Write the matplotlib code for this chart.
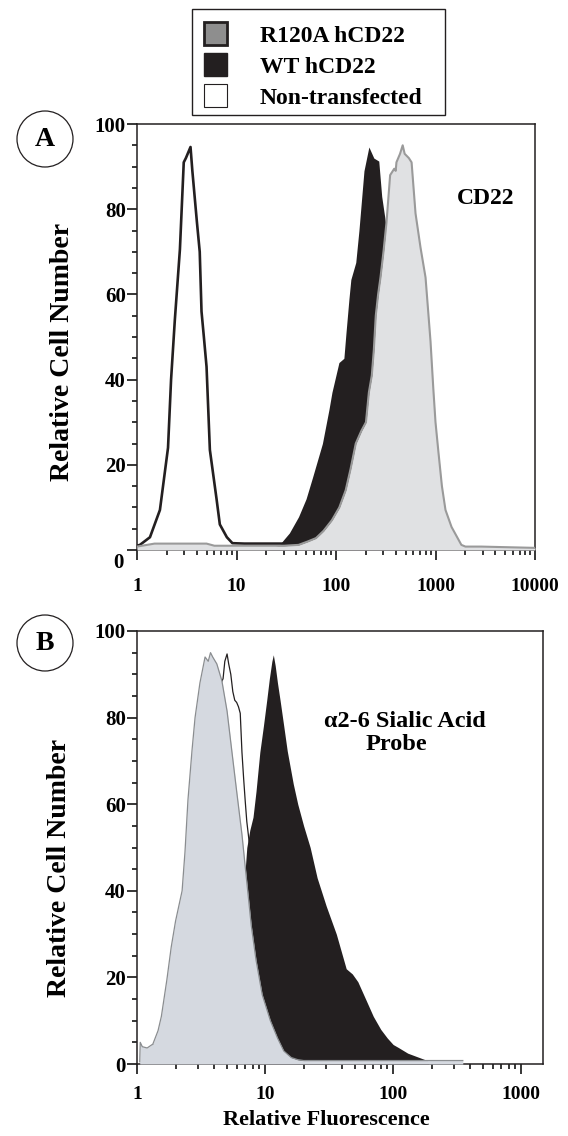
import matplotlib
matplotlib.use("Agg")
import matplotlib.pyplot as plt
from matplotlib.patches import Rectangle, Circle
from matplotlib.ticker import LogLocator, MultipleLocator, NullFormatter

plt.rcParams['font.family'] = ['Liberation Serif', 'DejaVu Serif']
plt.rcParams['font.weight'] = 'bold'
plt.rcParams['axes.labelweight'] = 'bold'

# ---- panel A (CD22) : non-transfected, R120A, WT ----
nt_a_x = [1.0, 1.07, 1.35, 1.7, 2.05, 2.2, 2.4, 2.7, 2.95, 3.1, 3.45, 3.6, 4.0, 4.27,
          4.45, 4.7, 5.0, 5.4, 6.3, 6.8, 8.0, 9.1, 12, 20, 30, 40]
nt_a_y = [1.0, 1.2, 3, 9.4, 24, 40, 54, 70.6, 91, 92, 94.6, 89, 77, 70,
          56, 50, 43, 23.5, 12, 6, 3, 1.6, 1.5, 1.5, 1.5, 1.5]

r120_a_x = [1.0, 1.5, 2.5, 5, 6, 10, 20, 30, 42, 52, 63, 75, 91, 108, 125, 140, 158,
            180, 200, 214, 229, 240, 251, 265, 280, 300, 322, 350, 385, 398, 405, 440,
            468, 490, 540, 575, 630, 707, 794, 851, 891, 950, 1000, 1070, 1160, 1260,
            1450, 1820, 2000, 2880, 10000]
r120_a_y = [0.8, 1.5, 1.5, 1.5, 1.0, 1.0, 1.0, 1.0, 1.2, 2.0, 2.8, 4.5, 7, 10, 14, 19, 25,
            28, 30, 37, 41, 47, 55, 60, 64, 70, 77, 88, 89.5, 89, 91, 93,
            95, 93, 92, 91, 79, 71, 64, 55, 49, 38, 30, 23, 15, 9.4,
            5.4, 1.2, 0.8, 0.8, 0.5]

wt_a_x = [20, 27, 30, 34, 42, 50, 58, 73, 85, 91, 107, 120, 126, 135, 141, 158, 170,
          191, 214, 240, 269, 288, 314, 340, 380, 420, 500]
wt_a_y = [0, 1.2, 2.5, 4, 7.8, 12, 17, 25, 33, 37, 44, 45, 51, 59, 63.5, 67.5, 75,
          89, 94.6, 92, 91.3, 83, 77, 60, 30, 5, 0]

# ---- panel B (a2-6 sialic acid probe) ----
nt_b_x = [1.1, 1.5, 2.0, 2.5, 3.0, 3.5, 4.0, 4.4, 4.7, 4.85, 5.05, 5.2, 5.4, 5.6, 5.8,
          6.0, 6.2, 6.4, 6.6, 6.8, 7.0, 7.2, 7.4, 7.6, 8.5, 10, 12, 15, 20, 30]
nt_b_y = [1, 6, 20, 45, 70, 82, 86, 87, 89, 93, 94.7, 92.4, 90, 86, 84,
          83.5, 82.5, 81, 72, 66, 60.7, 56, 53, 50, 35, 20, 10, 4, 1, 0.5]

r120_b_x = [1.05, 1.06, 1.1, 1.2, 1.33, 1.46, 1.55, 1.71, 1.85, 2.0, 2.25, 2.37, 2.5,
            2.69, 2.84, 3.1, 3.4, 3.6, 3.75, 3.9, 4.2, 4.6, 5.05, 5.5, 6.0, 6.6, 7.2,
            7.8, 8.5, 9.5, 11, 12.5, 14, 16, 18, 20, 50, 100, 200, 350]
r120_b_y = [0.5, 5, 4, 3.7, 4.6, 7.7, 11, 19.4, 27, 33, 40, 49, 61,
            72.5, 80, 88, 94, 93, 95, 94, 92.4, 88.5, 81.5, 72.3, 63, 53, 42,
            32, 24, 16, 10, 6, 3, 1.5, 1, 0.8, 0.8, 0.8, 0.8, 0.8]

wt_b_x = [6.9, 7.0, 7.2, 7.6, 8.05, 8.5, 9.1, 9.7, 10.3, 10.8, 11.3, 11.6, 12.0, 12.5,
          13.1, 14.0, 14.9, 16.6, 18.0, 20, 22.5, 25.5, 30, 36, 43, 48, 53, 62, 70,
          80, 90, 100, 110, 130, 160, 185, 190]
wt_b_y = [0, 45, 50, 54, 57, 63, 72, 78, 84, 89, 93, 94.5, 92, 88,
          84, 78, 72.3, 64.7, 60, 55, 50, 43, 36.5, 30, 22, 20.8, 19, 14.5, 11,
          8, 6, 4.5, 3.8, 2.5, 1.5, 0.8, 0]

legend_labels = ["R120A hCD22", "WT hCD22", "Non-transfected"]

W, H = 568, 1136
fig = plt.figure(figsize=(W / 100, H / 100), dpi=100)


def rect(l, t, r, b):
    return [l / W, 1 - b / H, (r - l) / W, (b - t) / H]


def style_axes(ax, xmax, xticks, xlabels, xpad):
    ax.set_xscale('log')
    ax.set_xlim(1, xmax)
    ax.set_ylim(0, 100)
    ax.set_xticks(xticks)
    ax.set_xticklabels(xlabels)
    ax.xaxis.set_minor_locator(LogLocator(base=10, subs=range(2, 10), numticks=20))
    ax.xaxis.set_minor_formatter(NullFormatter())
    ax.yaxis.set_major_locator(MultipleLocator(20))
    ax.yaxis.set_minor_locator(MultipleLocator(5))
    ax.tick_params(which='both', direction='out', width=1.1, labelsize=14,
                   top=False, right=False)
    ax.tick_params(axis='y', labelsize=15)
    ax.tick_params(which='major', length=7)
    ax.tick_params(which='minor', length=3.6)
    ax.tick_params(axis='x', which='major', pad=xpad)
    ax.tick_params(axis='y', which='major', pad=1)
    for s in ax.spines.values():
        s.set_linewidth(1.1)
        s.set_color('#231f20')


# panel A
axA = fig.add_axes(rect(137, 124, 535, 550))
axA.plot(nt_a_x, nt_a_y, color='#231f20', lw=1.9, zorder=1)
axA.fill_between(wt_a_x, wt_a_y, 0, color='#231f20', lw=0, zorder=2)
axA.fill_between(r120_a_x, r120_a_y, 0, color='#e0e1e3', lw=0, zorder=3)
axA.plot(r120_a_x, r120_a_y, color='#9a9a9a', lw=1.5, zorder=4)
style_axes(axA, 10000, [1, 10, 100, 1000, 10000], ["1", "10", "100", "1000", "10000"], 13)
axA.set_yticks([0, 20, 40, 60, 80, 100])
axA.set_yticklabels(["", "20", "40", "60", "80", "100"])
axA.text(-0.046, -0.03, "0", transform=axA.transAxes, fontsize=15,
         ha='center', va='center')
axA.set_ylabel("Relative Cell Number", fontsize=20)
axA.yaxis.set_label_coords(-0.155, 0.465)
axA.text(0.877, 0.812, "CD22", transform=axA.transAxes, fontsize=17,
         ha='center', va='baseline')

# panel B
axB = fig.add_axes(rect(137, 631, 543, 1064))
axB.plot(nt_b_x, nt_b_y, color='#231f20', lw=0.9, zorder=1)
axB.fill_between(wt_b_x, wt_b_y, 0, color='#231f20', lw=0, zorder=2)
axB.fill_between(r120_b_x, r120_b_y, 0, color='#d5d9e0', lw=0, zorder=3)
axB.plot(r120_b_x, r120_b_y, color='#8a8d90', lw=0.9, zorder=4)
style_axes(axB, 1480, [1, 10, 100, 1000], ["1", "10", "100", "1000"], 9)
axB.set_ylabel("Relative Cell Number", fontsize=20)
axB.yaxis.set_label_coords(-0.16, 0.453)
axB.set_xlabel("Relative Fluorescence", fontsize=16)
axB.xaxis.set_label_coords(0.467, -0.106)
axB.text(0.660, 0.778, "\u03b12-6 Sialic Acid", transform=axB.transAxes,
         fontsize=17.5, ha='center', va='baseline')
axB.text(0.640, 0.725, "Probe", transform=axB.transAxes,
         fontsize=17.5, ha='center', va='baseline')

# overlay in pixel coordinates for legend and panel letters
ov = fig.add_axes([0, 0, 1, 1])
ov.set_xlim(0, W)
ov.set_ylim(H, 0)
ov.axis('off')

ov.add_patch(Rectangle((192, 9), 253, 106, fill=False, ec='#231f20', lw=1))
sq_colors = ['#8e8e8e', '#231f20', 'white']
sq_edges = [2.0, 1.0, 0.8]
for i, lab in enumerate(legend_labels):
    yc = 33.5 + i * 31
    ov.add_patch(Rectangle((204, yc - 11.5), 23, 23, fc=sq_colors[i], ec='#231f20',
                           lw=sq_edges[i]))
    ov.text(260, yc + 8.5, lab, fontsize=17, ha='left', va='baseline')

for letter, (cx, cy) in zip(["A", "B"], [(45, 139), (45, 643)]):
    ov.add_patch(Circle((cx, cy), 28, fill=False, ec='#231f20', lw=0.9))
    ov.text(cx, cy + 1, letter, fontsize=20, ha='center', va='center')

fig.savefig("out.png", dpi=100)
